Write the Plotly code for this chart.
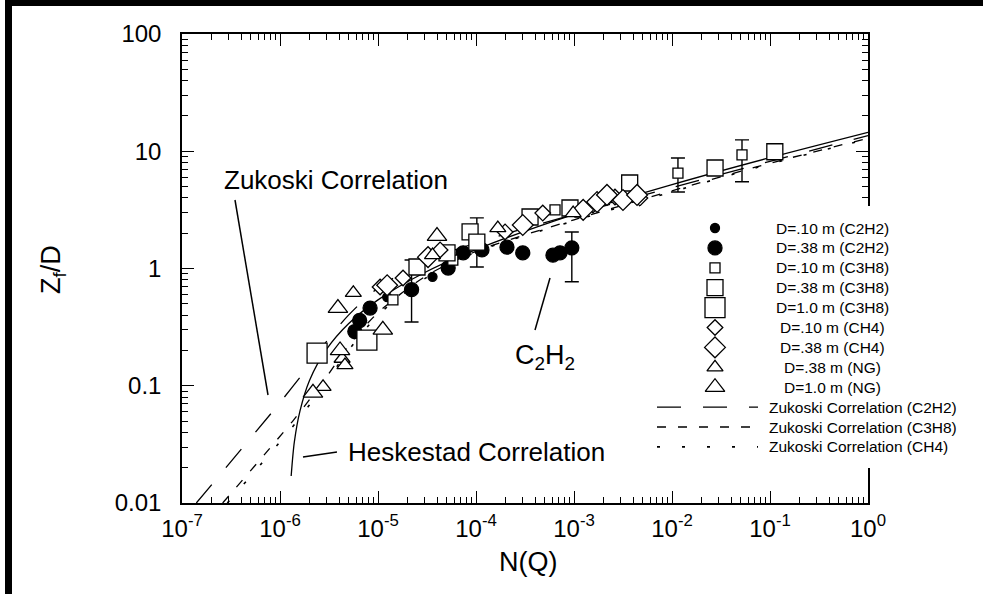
import plotly.graph_objects as go

# ---------------- data ----------------
# C2H2, D=.10 m (small filled circles)
c2h2_10_N = [1.24e-5, 3.6e-5]
c2h2_10_Z = [0.57, 0.85]
# C2H2, D=.38 m (large filled circles)
c2h2_38_N = [5.8e-6, 6.5e-6, 8.3e-6, 2.2e-5, 5.2e-5, 7.4e-5, 1.15e-4, 2.07e-4, 3.0e-4, 6.1e-4, 7.2e-4, 9.5e-4]
c2h2_38_Z = [0.29, 0.36, 0.46, 0.66, 1.01, 1.36, 1.44, 1.52, 1.36, 1.30, 1.36, 1.50]
# C3H8, D=.10 m (small open squares)
c3h8_10_N = [1.42e-5, 5.8e-5, 6.4e-4, 1.15e-3, 1.15e-2, 5.18e-2]
c3h8_10_Z = [0.54, 1.18, 3.16, 3.03, 6.5, 9.3]
# C3H8, D=.38 m (medium open squares)
c3h8_38_N = [2.5e-5, 5.06e-5, 8.7e-5, 1.02e-4, 3.56e-4, 9.1e-4, 3.7e-3, 2.75e-2, 0.112]
c3h8_38_Z = [1.03, 1.36, 2.05, 1.68, 2.75, 3.28, 5.36, 7.2, 9.9]
# C3H8, D=1.0 m (large open squares)
c3h8_100_N = [2.39e-6, 7.7e-6]
c3h8_100_Z = [0.19, 0.245]
# CH4, D=.10 m (small open diamonds)
ch4_10_N = [1.05e-5, 1.8e-5, 4.3e-5, 1.98e-4, 4.8e-4, 1.56e-3, 2.62e-3, 4.7e-3]
ch4_10_Z = [0.695, 0.83, 1.44, 2.05, 2.97, 3.48, 4.07, 3.99]
# CH4, D=.38 m (larger open diamonds)
ch4_38_N = [1.24e-5, 3.24e-5, 3.0e-4, 1.24e-3, 1.72e-3, 2.17e-3, 3.16e-3, 4.4e-3]
ch4_38_Z = [0.72, 1.25, 2.35, 3.16, 3.69, 4.24, 3.84, 4.24]
# NG, D=.38 m (open triangles)
ng_38_N = [2.75e-6, 4.3e-6, 4.6e-6, 5.6e-6, 3.6e-5, 1.67e-4, 9.8e-4]
ng_38_Z = [0.098, 0.17, 0.15, 0.62, 1.30, 2.21, 2.97]
# NG, D=1.0 m (larger open triangles)
ng_100_N = [2.17e-6, 3.9e-6, 4.1e-6, 1.12e-5, 4.0e-5]
ng_100_Z = [0.087, 0.46, 0.20, 0.30, 1.89]

# error bars (centre, upper and lower ends)
err_N = [2.2e-5, 1.02e-4, 9.5e-4, 1.15e-2, 5.18e-2]
err_Z = [0.66, 1.68, 1.50, 6.5, 9.3]
err_hi = [1.18, 2.70, 2.05, 8.75, 12.5]
err_lo = [0.35, 1.03, 0.77, 4.49, 5.5]

# correlation curves
hesk_N = [1.3e-6, 1.4e-6, 1.6e-6, 2e-6, 3e-6, 5e-6, 1e-5, 3e-5, 1e-4, 1e-3, 1e-2, 1e-1, 1.0]
hesk_Z = [0.017, 0.033, 0.061, 0.111, 0.206, 0.338, 0.54, 0.924, 1.45, 2.90, 5.19, 8.82, 14.5]
zc2h2_N = [1.4e-7, 1e-6, 2e-6, 3e-6, 5e-6, 1e-5, 3e-5, 1e-4, 1e-3, 1e-2, 1e-1, 1.0]
zc2h2_Z = [0.01, 0.072, 0.15, 0.24, 0.40, 0.68, 1.15, 1.65, 2.9, 4.9, 8.2, 13.6]
zc3h8_N = [2.6e-7, 1.4e-6, 3e-6, 5e-6, 1e-5, 3e-5, 1e-4, 1e-3, 1e-2, 1e-1, 1.0]
zc3h8_Z = [0.01, 0.052, 0.12, 0.22, 0.42, 0.85, 1.4, 2.6, 4.6, 7.9, 12.9]
zch4_N = [2.9e-7, 1.5e-6, 3e-6, 5e-6, 1e-5, 3e-5, 1e-4, 1e-3, 1e-2, 1e-1, 1.0]
zch4_Z = [0.01, 0.05, 0.11, 0.20, 0.40, 0.82, 1.38, 2.55, 4.5, 7.8, 12.7]

x_tickvals = [1e-7, 1e-6, 1e-5, 1e-4, 1e-3, 1e-2, 1e-1, 1.0]
x_ticktext = ["10<sup>-7</sup>", "10<sup>-6</sup>", "10<sup>-5</sup>", "10<sup>-4</sup>",
              "10<sup>-3</sup>", "10<sup>-2</sup>", "10<sup>-1</sup>", "10<sup>0</sup>"]
y_tickvals = [0.01, 0.1, 1, 10, 100]
y_ticktext = ["0.01", "0.1", "1", "10", "100"]

legend_labels = ["D=.10 m (C2H2)", "D=.38 m (C2H2)", "D=.10 m (C3H8)", "D=.38 m (C3H8)",
                 "D=1.0 m (C3H8)", "D=.10 m (CH4)", "D=.38 m (CH4)", "D=.38 m (NG)", "D=1.0 m (NG)"]
line_labels = ["Zukoski Correlation (C2H2)", "Zukoski Correlation (C3H8)", "Zukoski Correlation (CH4)"]

# ---------------- layout constants (pixels) ----------------
W, H = 983, 594
PL, PR, PT, PB = 182, 868, 34, 503
FONT = "Liberation Sans, Arial, Helvetica, sans-serif"
BLACK = "black"

fig = go.Figure()

# curves
line_styles = [
    (hesk_N, hesk_Z, "solid", 1.3),
    (zc2h2_N, zc2h2_Z, "24px,22px", 1.3),
    (zc3h8_N, zc3h8_Z, "9px,12px", 1.3),
    (zch4_N, zch4_Z, "3px,22px", 1.6),
]
for xs, ys, dash, w in line_styles:
    fig.add_trace(go.Scatter(x=xs, y=ys, mode="lines",
                             line=dict(color=BLACK, width=w, dash=dash, shape="spline", smoothing=0.8),
                             showlegend=False, hoverinfo="skip"))

# error bars
fig.add_trace(go.Scatter(
    x=err_N, y=err_Z, mode="markers", marker=dict(size=1, opacity=0),
    error_y=dict(type="data", symmetric=False,
                 array=[h - z for h, z in zip(err_hi, err_Z)],
                 arrayminus=[z - l for z, l in zip(err_Z, err_lo)],
                 color=BLACK, thickness=1.4, width=7),
    showlegend=False, hoverinfo="skip"))

series = [
    (c2h2_10_N, c2h2_10_Z, "circle", 9, True),
    (c2h2_38_N, c2h2_38_Z, "circle", 14, True),
    (c3h8_10_N, c3h8_10_Z, "square", 10, False),
    (c3h8_38_N, c3h8_38_Z, "square", 16, False),
    (c3h8_100_N, c3h8_100_Z, "square", 20, False),
    (ch4_10_N, ch4_10_Z, "diamond", 12, False),
    (ch4_38_N, ch4_38_Z, "diamond", 16, False),
    (ng_38_N, ng_38_Z, "triangle-up", 14, False),
    (ng_100_N, ng_100_Z, "triangle-up", 17, False),
]
for xs, ys, sym, size, filled in series:
    fig.add_trace(go.Scatter(
        x=xs, y=ys, mode="markers",
        marker=dict(symbol=sym, size=size, color=BLACK if filled else "white",
                    line=dict(color=BLACK, width=1.3)),
        showlegend=False, hoverinfo="skip"))

# ---------------- hand-drawn legend on a pixel overlay axis ----------------
# opaque legend box (hides the right axis behind the legend, as in the reference)
box_x0, box_x1, box_y0, box_y1 = 640, 983, 206, 468
fig.add_trace(go.Scatter(
    x=[box_x0, box_x1, box_x1, box_x0, box_x0], y=[box_y0, box_y0, box_y1, box_y1, box_y0],
    xaxis="x2", yaxis="y2", mode="lines", fill="toself", fillcolor="white",
    line=dict(width=0, color="white"), showlegend=False, hoverinfo="skip"))

leg_marker_x = 715
leg_text_cx = 832
leg_y0 = 228
leg_dy = 19.9
for i, (lab, (xs, ys, sym, size, filled)) in enumerate(zip(legend_labels, series)):
    yy = leg_y0 + i * leg_dy
    fig.add_trace(go.Scatter(
        x=[leg_marker_x], y=[yy], xaxis="x2", yaxis="y2", mode="markers",
        marker=dict(symbol=sym, size=size, color=BLACK if filled else "white",
                    line=dict(color=BLACK, width=1.3)),
        showlegend=False, hoverinfo="skip"))
    fig.add_annotation(x=leg_text_cx, y=yy, xref="x2", yref="y2", text=lab, showarrow=False,
                       xanchor="center", yanchor="middle", font=dict(family=FONT, size=15.5, color=BLACK))

for j, (lab, (xs, ys, dash, w)) in enumerate(zip(line_labels, line_styles[1:])):
    yy = leg_y0 + (len(legend_labels) + j) * leg_dy
    fig.add_trace(go.Scatter(
        x=[657, 758], y=[yy, yy], xaxis="x2", yaxis="y2", mode="lines",
        line=dict(color=BLACK, width=w, dash=dash), showlegend=False, hoverinfo="skip"))
    fig.add_annotation(x=767, y=yy, xref="x2", yref="y2", text=lab, showarrow=False,
                       xanchor="left", yanchor="middle", font=dict(family=FONT, size=15.5, color=BLACK))

# ---------------- annotations ----------------
big = dict(family=FONT, size=26, color=BLACK)
fig.add_annotation(x=222, y=180, xref="x2", yref="y2", text="Zukoski Correlation", showarrow=False,
                   xanchor="left", yanchor="middle", font=big)
fig.add_annotation(x=346, y=452, xref="x2", yref="y2", text="Heskestad Correlation", showarrow=False,
                   xanchor="left", yanchor="middle", font=big)
fig.add_annotation(x=545, y=357, xref="x2", yref="y2", text="C<sub>2</sub>H<sub>2</sub>", showarrow=False,
                   xanchor="center", yanchor="middle", font=dict(family=FONT, size=27, color=BLACK))
fig.add_annotation(x=53, y=270, xref="x2", yref="y2", text="Z<sub>f</sub>/D", showarrow=False, textangle=-90,
                   xanchor="center", yanchor="middle", font=dict(family=FONT, size=27, color=BLACK))
fig.add_annotation(x=528, y=562, xref="x2", yref="y2", text="N(Q)", showarrow=False,
                   xanchor="center", yanchor="middle", font=dict(family=FONT, size=27, color=BLACK))

# leader lines and the black scan frame
for x0, y0, x1, y1 in [(235, 200, 268, 395), (303, 457, 337, 452), (535, 330, 550, 278)]:
    fig.add_shape(type="line", x0=x0, y0=y0, x1=x1, y1=y1, xref="x2", yref="y2",
                  line=dict(color=BLACK, width=1.5))
fig.add_shape(type="rect", x0=5, x1=W, y0=0, y1=6, xref="x2", yref="y2", fillcolor=BLACK, line_width=0)
fig.add_shape(type="rect", x0=5, x1=12, y0=0, y1=H, xref="x2", yref="y2", fillcolor=BLACK, line_width=0)

axis_common = dict(showgrid=False, zeroline=False, showline=True, linecolor=BLACK, linewidth=1.5,
                   mirror="allticks", ticks="inside", ticklen=12, tickwidth=1.2, tickcolor=BLACK,
                   automargin=False,
                   tickfont=dict(family=FONT, size=24, color=BLACK),
                   minor=dict(ticks="inside", ticklen=6, tickwidth=1, tickcolor=BLACK, showgrid=False,
                              dtick="D1"))

fig.update_layout(
    width=W, height=H, margin=dict(l=0, r=0, t=0, b=0, pad=0, autoexpand=False),
    paper_bgcolor="white", plot_bgcolor="rgba(0,0,0,0)",
    showlegend=False,
    xaxis=dict(type="log", range=[-7, 0], domain=[PL / W, PR / W], anchor="y",
               tickvals=x_tickvals, ticktext=x_ticktext, ticklabelstandoff=3, **axis_common),
    yaxis=dict(type="log", range=[-2, 2], domain=[1 - PB / H, 1 - PT / H], anchor="x",
               tickvals=y_tickvals, ticktext=y_ticktext, ticklabelstandoff=14, **axis_common),
    xaxis2=dict(range=[0, W], domain=[0, 1], anchor="y2", visible=False, fixedrange=True, automargin=False),
    yaxis2=dict(range=[H, 0], domain=[0, 1], anchor="x2", visible=False, fixedrange=True, automargin=False),
)

fig.write_html("out.html")
